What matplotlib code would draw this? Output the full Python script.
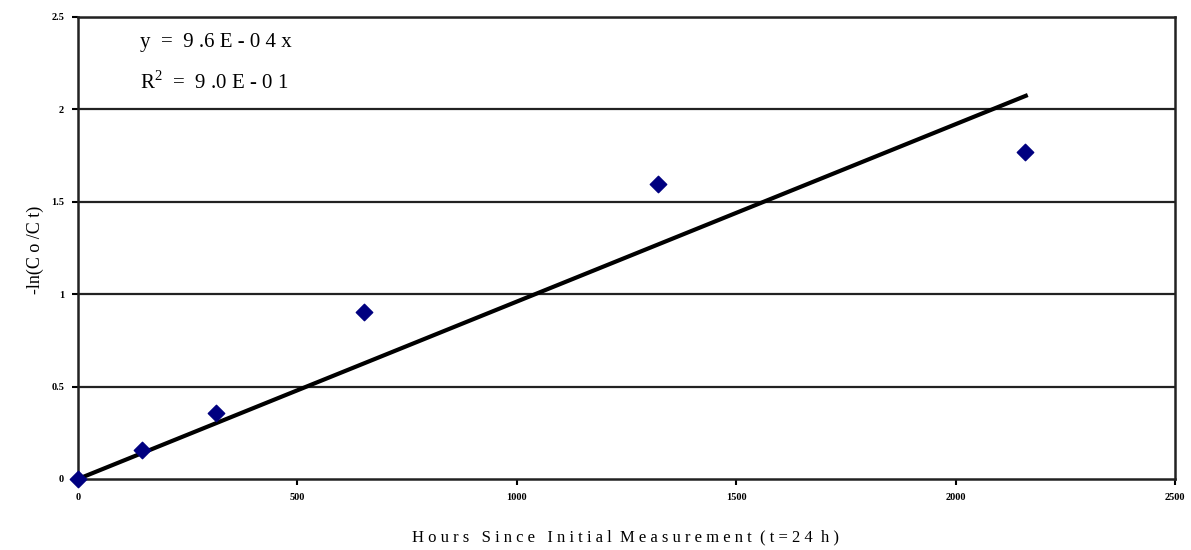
import numpy as np
import matplotlib.pyplot as plt

# measured points
hours = [0, 146, 314, 652, 1322, 2158]
neg_ln = [0.0, 0.157, 0.357, 0.904, 1.596, 1.77]

slope = 9.6e-4
fit_x = [0, 2160]
xticks = [0, 500, 1000, 1500, 2000, 2500]
yticks = [0, 0.5, 1, 1.5, 2, 2.5]
ytick_labels = ['0', '0.5', '1', '1.5', '2', '2.5']

plt.rcParams['font.family'] = ['Liberation Serif', 'DejaVu Serif']
plt.rcParams['mathtext.fontset'] = 'custom'
plt.rcParams['mathtext.rm'] = 'Liberation Serif'

fig = plt.figure(figsize=(11.91, 5.5), dpi=100)
ax = fig.add_axes([78 / 1191, 1 - 479 / 550, (1175 - 78) / 1191, (479 - 17) / 550])

for y in yticks[1:]:
    ax.axhline(y, color='#222222', lw=1.6, zorder=1)

fx = np.array(fit_x)
ax.plot(fx, slope * fx, color='black', lw=3, zorder=2)
ax.scatter(hours, neg_ln, marker='D', s=70, color='#000080', zorder=3, clip_on=False)

ax.set_xlim(0, 2500)
ax.set_ylim(0, 2.5)
ax.set_xticks(xticks)
ax.set_yticks(yticks)
ax.set_yticklabels(ytick_labels)
ax.tick_params(labelsize=7.5, direction='out', length=4, width=1.5, pad=6)
for lab in ax.get_xticklabels() + ax.get_yticklabels():
    lab.set_fontweight('bold')
for s in ax.spines.values():
    s.set_linewidth(1.8)
    s.set_color('#222222')

ax.text(62 / 1097, 1 - 25 / 462, 'y  =  9 .6 E - 0 4 x', transform=ax.transAxes,
        fontsize=15, va='center', ha='left')
ax.text(62 / 1097, 1 - 65 / 462, r'R$^{\mathrm{2}}$  =  9 .0 E - 0 1', transform=ax.transAxes,
        fontsize=15, va='center', ha='left')

fig.text(35 / 1191, 1 - 250 / 550, '-ln(C o /C t)', rotation=90, fontsize=13,
         ha='center', va='center')
fig.text(625 / 1191, 1 - 537 / 550, 'H o u r s   S i n c e   I n i t i a l  M e a s u r e m e n t  ( t = 2 4  h )',
         fontsize=12, ha='center', va='center')

fig.savefig('out.png', dpi=100)
